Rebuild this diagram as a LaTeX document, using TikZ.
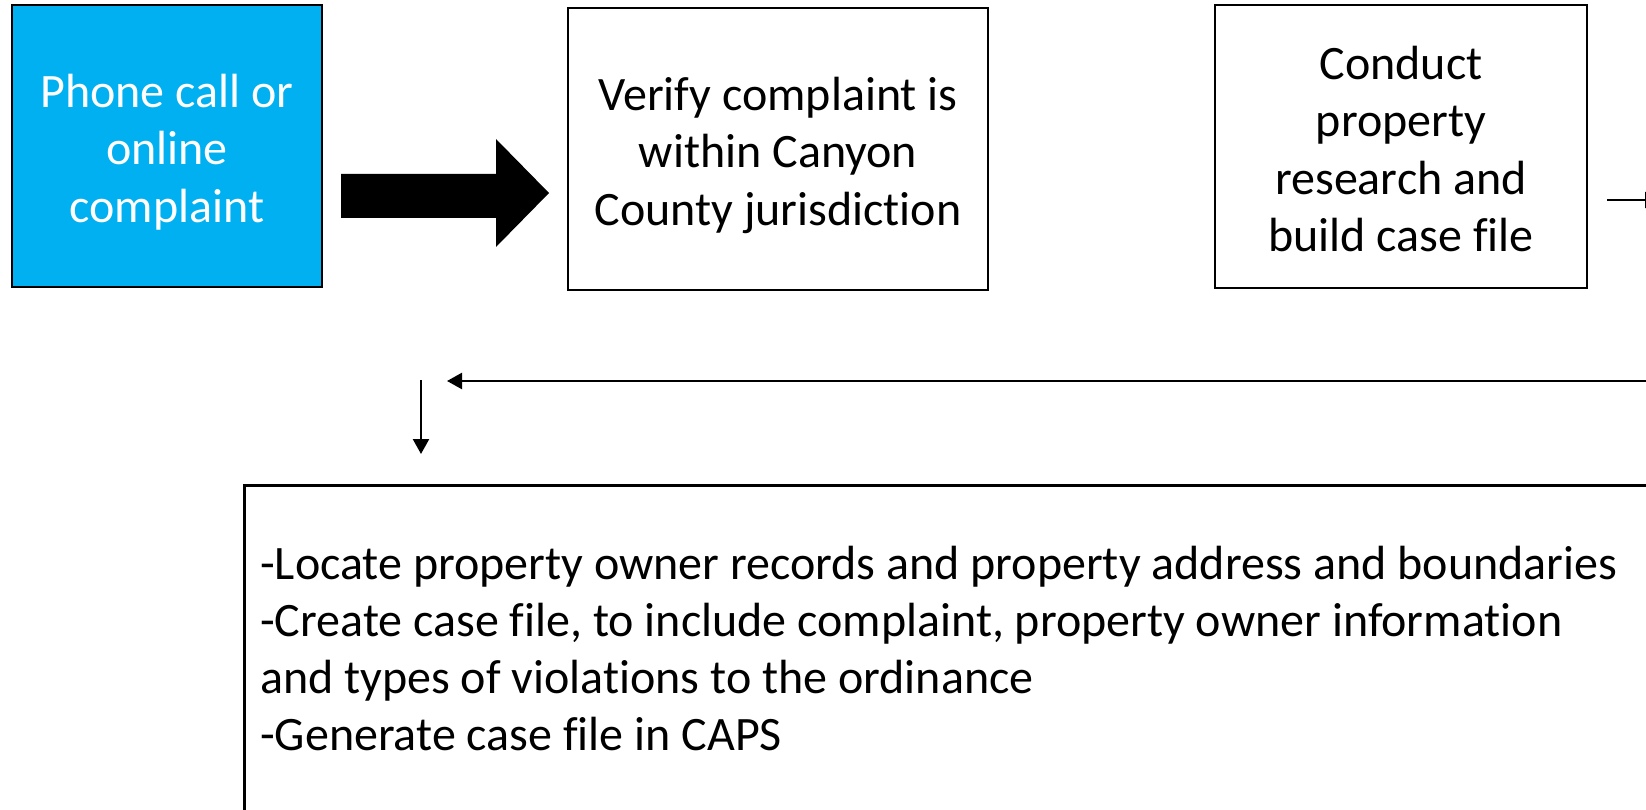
\documentclass[tikz,border=0pt]{standalone}
\usepackage{fontspec}
\setmainfont{Carlito}[Ligatures=CommonOff]
\usetikzlibrary{arrows.meta}
\definecolor{skyblue}{HTML}{00B0F0}
\begin{document}
\begin{tikzpicture}[x=1pt,y=-1pt,
  box/.style={draw=black,line width=2.6pt,minimum width=#1,inner sep=0pt},
  lbl/.style={inner sep=0pt,align=center,font=\fontsize{48}{57.5}\selectfont},
  thin/.style={line width=2.4pt,-{Triangle[length=15pt,width=16pt]}}]
\useasboundingbox (0,0) rectangle (1646,810);
\clip (0,0) rectangle (1646,810);
\node[box=310pt,minimum height=282pt,fill=skyblue] (b1) at (167,146) {};
\node[lbl,text=white] (t1) at (167,152) {Phone call or\\online\\complaint};
\node[box=420pt,minimum height=282pt] (b2) at (778,149) {};
\node[lbl] (t2) at (778,155) {Verify complaint is\\within Canyon\\County jurisdiction};
\node[box=372pt,minimum height=283pt] (b3) at (1401,146.5) {};
\node[lbl] (t3) at (1401,149) {Conduct\\property\\research and\\build case file};
\node[draw=black,line width=2.6pt,minimum width=1440pt,minimum height=360pt,anchor=north west,inner sep=0pt] (b4) at (243,484) {};
\node[anchor=north west,inner sep=0pt,align=left,font=\fontsize{48}{57}\selectfont] (t4) at (260,546)
 {-Locate property owner records and property address and boundaries\\
  -Create case file, to include complaint, property owner information\\
  and types of violations to the ordinance\\
  -Generate case file in CAPS};
\fill[black] (341,174) -- (496,174) -- (496,139) -- (549,193) -- (496,247) -- (496,218) -- (341,218) -- cycle;
\coordinate (r0) at (1607,200);
\coordinate (r1) at (1660,200);
\draw[thin] (r0) -- (r1);
\coordinate (h0) at (1660,381);
\coordinate (h1) at (447,381);
\draw[thin] (h0) -- (h1);
\coordinate (d0) at (421,380);
\coordinate (d1) at (421,454);
\draw[thin] (d0) -- (d1);
\end{tikzpicture}
\end{document}
